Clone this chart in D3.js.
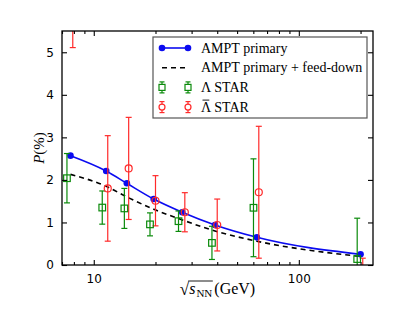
<!DOCTYPE html>
<html>
<head>
<meta charset="utf-8">
<script src="https://cdn.jsdelivr.net/npm/d3@7"></script>
<style>
  body { margin: 0; background: #fff; }
  svg { display: block; }
</style>
</head>
<body>
<svg id="chart" width="415" height="312"></svg>
<script>
// AMPT curves, evaluated at the BES energies
let energies = [7.7, 11.5, 14.5, 19.6, 27, 39, 62.4, 200];
let amptPrimary = [2.57, 2.21, 1.92, 1.55, 1.24, 0.94, 0.65, 0.25];
let amptFeedDown = [2.13, 1.85, 1.60, 1.31, 1.06, 0.80, 0.56, 0.20];

// STAR Lambda (drawn slightly left of the nominal energy)
let lambdaX = [7.4, 11.0, 14.1, 18.8, 25.9, 37.7, 60.1, 192.6];
let lambdaP = [2.04, 1.35, 1.33, 0.955, 1.03, 0.52, 1.345, 0.14];
let lambdaErr = [0.58, 0.39, 0.47, 0.27, 0.24, 0.39, 1.15, 0.96];

// STAR anti-Lambda (drawn slightly right)
let antiX = [7.9, 11.7, 14.8, 20.0, 27.8, 40.0, 63.8, 205];
let antiP = [8.67, 1.80, 2.27, 1.51, 1.24, 0.94, 1.71, -0.5];
let antiErr = [3.56, 1.24, 1.20, 0.59, 0.46, 0.61, 1.55, 0.66];

let xMajor = [10, 100];
let xMinor = [7, 8, 9, 20, 30, 40, 50, 60, 70, 80, 90, 200];
let yTicks = [0, 1, 2, 3, 4, 5];

// last one gets a bar drawn over the Lambda
let legendLabels = ["AMPT primary", "AMPT primary + feed-down", "\u039b STAR", "\u039b STAR"];

let blue = "#0b0bf0", green = "#0a8a0a", red = "#ff2a2a";

let svg = d3.select("#chart");
let pLeft = 62, pRight = 373, pTop = 31, pBottom = 265;

let x = d3.scaleLog().domain([7, 230]).range([pLeft, pRight]);
let y = d3.scaleLinear().domain([0, 5.5]).range([pBottom, pTop]);

svg.append("clipPath").attr("id", "plotClip")
    .append("rect")
    .attr("x", pLeft).attr("y", pTop)
    .attr("width", pRight - pLeft).attr("height", pBottom - pTop);

let plot = svg.append("g").attr("clip-path", "url(#plotClip)");

// AMPT lines
let line = d3.line()
    .x(function (d) { return x(d[0]); })
    .y(function (d) { return y(d[1]); })
    .curve(d3.curveMonotoneX);

plot.append("path")
    .datum(d3.zip(energies, amptFeedDown))
    .attr("d", line)
    .attr("fill", "none")
    .attr("stroke", "#000")
    .attr("stroke-width", 1.6)
    .attr("stroke-dasharray", "5,4");

plot.append("path")
    .datum(d3.zip(energies, amptPrimary))
    .attr("d", line)
    .attr("fill", "none")
    .attr("stroke", blue)
    .attr("stroke-width", 1.6);

plot.selectAll("circle.ampt")
    .data(d3.zip(energies, amptPrimary))
    .enter()
    .append("circle")
    .attr("class", "ampt")
    .attr("cx", function (d) { return x(d[0]); })
    .attr("cy", function (d) { return y(d[1]); })
    .attr("r", 3.3)
    .attr("fill", blue);

// error bars with caps
function errorBars(g, xs, vals, errs, colour) {
    let rows = d3.zip(xs, vals, errs);
    let grp = g.append("g").attr("stroke", colour).attr("stroke-width", 1.2);
    rows.forEach(function (r) {
        let cx = x(r[0]);
        let y1 = y(r[1] + r[2]), y0 = y(r[1] - r[2]);
        grp.append("line").attr("x1", cx).attr("x2", cx).attr("y1", y1).attr("y2", y0);
        grp.append("line").attr("x1", cx - 3).attr("x2", cx + 3).attr("y1", y1).attr("y2", y1);
        grp.append("line").attr("x1", cx - 3).attr("x2", cx + 3).attr("y1", y0).attr("y2", y0);
    });
}

errorBars(plot, lambdaX, lambdaP, lambdaErr, green);
errorBars(plot, antiX, antiP, antiErr, red);

plot.selectAll("rect.lam")
    .data(d3.zip(lambdaX, lambdaP))
    .enter()
    .append("rect")
    .attr("class", "lam")
    .attr("x", function (d) { return x(d[0]) - 3.3; })
    .attr("y", function (d) { return y(d[1]) - 3.3; })
    .attr("width", 6.6).attr("height", 6.6)
    .attr("fill", "none")
    .attr("stroke", green)
    .attr("stroke-width", 1.2);

plot.selectAll("circle.anti")
    .data(d3.zip(antiX, antiP))
    .enter()
    .append("circle")
    .attr("class", "anti")
    .attr("cx", function (d) { return x(d[0]); })
    .attr("cy", function (d) { return y(d[1]); })
    .attr("r", 3.5)
    .attr("fill", "none")
    .attr("stroke", red)
    .attr("stroke-width", 1.2);

// axes, ticks inward on all four sides
let tickFont = "'DejaVu Sans', sans-serif";

let xAxisB = d3.axisBottom(x).tickValues(xMajor).tickFormat(d3.format("d")).tickSizeInner(-5).tickSizeOuter(0).tickPadding(9);
let xAxisBm = d3.axisBottom(x).tickValues(xMinor).tickFormat("").tickSizeInner(-3).tickSizeOuter(0);
let xAxisT = d3.axisTop(x).tickValues(xMajor).tickFormat("").tickSizeInner(-5).tickSizeOuter(0);
let xAxisTm = d3.axisTop(x).tickValues(xMinor).tickFormat("").tickSizeInner(-3).tickSizeOuter(0);
let yAxisL = d3.axisLeft(y).tickValues(yTicks).tickFormat(d3.format("d")).tickSizeInner(-5).tickSizeOuter(0).tickPadding(8);
let yAxisR = d3.axisRight(y).tickValues(yTicks).tickFormat("").tickSizeInner(-5).tickSizeOuter(0);

[
    [xAxisB, "translate(0," + pBottom + ")"],
    [xAxisBm, "translate(0," + pBottom + ")"],
    [xAxisT, "translate(0," + pTop + ")"],
    [xAxisTm, "translate(0," + pTop + ")"],
    [yAxisL, "translate(" + pLeft + ",0)"],
    [yAxisR, "translate(" + pRight + ",0)"]
].forEach(function (a) {
    let g = svg.append("g").attr("transform", a[1]).call(a[0]);
    g.select(".domain").remove();
    g.selectAll("line").attr("stroke", "#000").attr("stroke-width", 1.1);
    g.selectAll("text").attr("font-family", tickFont).attr("font-size", 12).attr("fill", "#000");
});

svg.append("rect")
    .attr("x", pLeft).attr("y", pTop)
    .attr("width", pRight - pLeft).attr("height", pBottom - pTop)
    .attr("fill", "none")
    .attr("stroke", "#000")
    .attr("stroke-width", 1.3);

// legend
let serif = "'Liberation Serif', 'Times New Roman', serif";
let legend = svg.append("g");
legend.append("rect")
    .attr("x", 153).attr("y", 37).attr("width", 214).attr("height", 81)
    .attr("fill", "#fff").attr("stroke", "#555").attr("stroke-width", 1.2);

let rowY = function (i) { return 48 + i * 19.7; };
let sx0 = 162, sx1 = 188;

legend.append("line").attr("x1", sx0).attr("x2", sx1).attr("y1", rowY(0)).attr("y2", rowY(0))
    .attr("stroke", blue).attr("stroke-width", 1.6);
[sx0, sx1].forEach(function (sx) {
    legend.append("circle").attr("cx", sx).attr("cy", rowY(0)).attr("r", 3.3).attr("fill", blue);
});

legend.append("line").attr("x1", sx0).attr("x2", sx1).attr("y1", rowY(1)).attr("y2", rowY(1))
    .attr("stroke", "#000").attr("stroke-width", 1.6).attr("stroke-dasharray", "5,4");

[[2, green], [3, red]].forEach(function (e) {
    let cy = rowY(e[0]);
    [sx0, sx1].forEach(function (sx) {
        let g = legend.append("g").attr("stroke", e[1]).attr("stroke-width", 1.2).attr("fill", "none");
        g.append("line").attr("x1", sx).attr("x2", sx).attr("y1", cy - 5.5).attr("y2", cy + 5.5);
        g.append("line").attr("x1", sx - 2.5).attr("x2", sx + 2.5).attr("y1", cy - 5.5).attr("y2", cy - 5.5);
        g.append("line").attr("x1", sx - 2.5).attr("x2", sx + 2.5).attr("y1", cy + 5.5).attr("y2", cy + 5.5);
        if (e[0] == 2) {
            g.append("rect").attr("x", sx - 3).attr("y", cy - 3).attr("width", 6).attr("height", 6).attr("fill", "#fff");
        } else {
            g.append("circle").attr("cx", sx).attr("cy", cy).attr("r", 3).attr("fill", "#fff");
        }
    });
});

let legendText = legend.selectAll("text")
    .data(legendLabels)
    .enter()
    .append("text")
    .attr("x", 201)
    .attr("y", function (d, i) { return rowY(i) + 4.5; })
    .attr("font-family", serif)
    .attr("font-size", 14)
    .attr("fill", "#000")
    .text(function (d) { return d; });

// bar over the anti-Lambda
let lamW = legendText.nodes()[3].getSubStringLength(0, 1);
legend.append("line")
    .attr("x1", 201 + 1.5).attr("x2", 201 + lamW - 1.5)
    .attr("y1", rowY(3) + 4.5 - 11.5).attr("y2", rowY(3) + 4.5 - 11.5)
    .attr("stroke", "#000").attr("stroke-width", 0.9);

// y label: P(%)
let ylab = svg.append("text")
    .attr("transform", "translate(44," + ((pTop + pBottom) / 2) + ") rotate(-90)")
    .attr("text-anchor", "middle")
    .attr("font-family", serif)
    .attr("font-size", 15);
ylab.append("tspan").attr("font-style", "italic").text("P");
ylab.append("tspan").text("(%)");

// x label: sqrt(s_NN) (GeV)
let xl = svg.append("g");
let baseY = 294;
let rootT = xl.append("text").attr("y", baseY + 1).attr("font-family", serif).attr("font-size", 17).text("\u221a");
let sT = xl.append("text").attr("y", baseY).attr("font-family", serif).attr("font-size", 16).attr("font-style", "italic").text("s");
let nnT = xl.append("text").attr("y", baseY + 3).attr("font-family", serif).attr("font-size", 11).text("NN");
let gevT = xl.append("text").attr("y", baseY).attr("font-family", serif).attr("font-size", 16).text("(GeV)");

let wRoot = rootT.node().getComputedTextLength();
let wS = sT.node().getComputedTextLength();
let wNN = nnT.node().getComputedTextLength();
let wGev = gevT.node().getComputedTextLength();
let total = wRoot + wS + 1 + wNN + 2 + wGev;
let x0 = (pLeft + pRight) / 2 - total / 2;
rootT.attr("x", x0);
sT.attr("x", x0 + wRoot);
nnT.attr("x", x0 + wRoot + wS + 1);
gevT.attr("x", x0 + wRoot + wS + 1 + wNN + 2);
xl.append("line")
    .attr("x1", x0 + wRoot - 1).attr("x2", x0 + wRoot + wS + 1 + wNN + 0.5)
    .attr("y1", baseY - 13).attr("y2", baseY - 13)
    .attr("stroke", "#000").attr("stroke-width", 0.9);
</script>
</body>
</html>
